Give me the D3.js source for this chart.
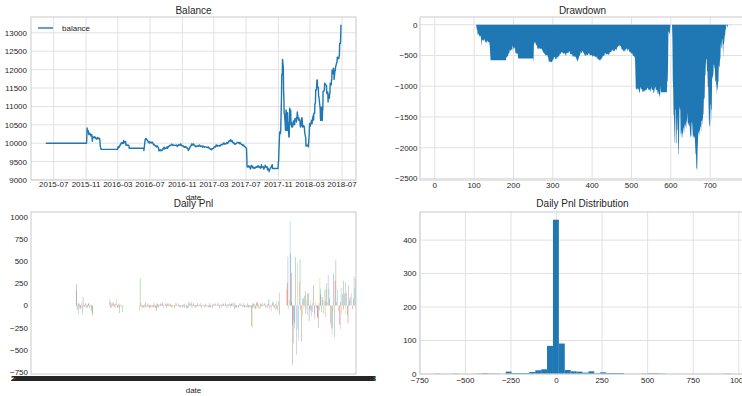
<!DOCTYPE html>
<html><head><meta charset="utf-8">
<script src="https://cdn.jsdelivr.net/npm/d3@7"></script>
<style>
body{margin:0;background:#fff;}
svg text{font-family:"Liberation Sans",Arial,sans-serif;fill:#262626;}
</style></head><body>
<svg id="c" width="742" height="396"></svg>
<script>
// ---------------- data ----------------
const startDate = "2015-06-01";
const startBalance = 10000;
// exchange holidays (weekdays without trading)
const holidays = [
  ["2015-06-22","2015-06-22"],["2015-09-03","2015-09-04"],["2015-10-01","2015-10-07"],
  ["2016-01-01","2016-01-01"],["2016-02-08","2016-02-12"],["2016-04-04","2016-04-04"],
  ["2016-05-02","2016-05-02"],["2016-06-09","2016-06-10"],["2016-09-15","2016-09-16"],
  ["2016-10-03","2016-10-07"],["2017-01-02","2017-01-02"],["2017-01-27","2017-02-02"],
  ["2017-04-03","2017-04-04"],["2017-05-01","2017-05-01"],["2017-05-29","2017-05-30"],
  ["2017-10-02","2017-10-06"],["2018-01-01","2018-01-01"],["2018-02-15","2018-02-21"],
  ["2018-04-05","2018-04-06"],["2018-04-30","2018-05-01"],["2018-06-18","2018-06-18"]
];
const dailyPnl = [
0,0,0,0,0,0,0,0,0,0,
0,0,0,0,0,0,0,0,0,0,
0,0,0,0,0,0,0,0,0,0,
0,0,0,0,0,0,0,0,0,0,
0,0,0,0,0,0,0,0,0,0,
0,0,0,0,0,0,0,0,0,0,
0,0,0,0,0,0,0,0,0,0,
0,0,0,0,0,0,0,0,0,0,
0,0,0,0,0,0,0,0,0,0,
0,0,0,0,0,0,0,0,0,0,
0,0,0,0,169,243,-38,-52,12,-96,
28,-17,21,-44,8,-31,35,-12,-68,-104,
96,22,-18,6,-14,25,9,-27,-25,15,
-22,-11,24,22,-5,-30,0,12,0,-21,
-63,-120,-97,0,0,0,0,0,0,0,
0,0,0,0,0,0,0,0,0,0,
0,0,0,0,0,0,0,0,0,0,
0,0,0,0,0,0,0,0,0,0,
0,0,64,-27,38,-22,15,27,26,-8,
21,41,-21,12,0,24,-28,0,80,-21,
-24,-14,9,24,-22,-84,12,0,-18,7,
0,-9,-72,0,0,0,0,0,0,0,
0,0,0,0,0,0,0,0,0,0,
0,0,0,0,0,0,0,0,0,0,
0,0,0,0,0,0,0,0,0,0,
0,-60,308,-12,27,6,-18,-27,-9,4,
-21,-33,-7,10,-25,33,-6,-14,5,-19,
24,-11,8,-28,-5,-24,-16,12,-22,0,
-9,-17,6,-24,29,-13,9,-31,-8,-29,
-63,30,-18,19,-26,11,-6,7,-10,26,
15,8,-4,35,12,-6,-35,9,-3,0,
22,14,-5,-28,31,18,-7,13,28,-9,
11,5,23,-12,8,-23,6,-14,10,0,
-5,9,-31,-8,4,31,12,-6,0,7,
-11,26,5,-9,-26,-16,6,0,-13,8,
-20,-22,11,-7,22,-24,6,0,-18,9,
-35,0,-28,-22,41,0,37,18,0,25,
12,44,-29,8,-6,27,4,-9,-27,6,
-12,-24,-8,5,-14,24,7,-10,0,-6,
9,30,-13,4,-30,-7,11,0,-5,8,
-21,-11,6,21,-9,-14,0,7,-12,0,
-18,5,25,-21,-25,-12,8,0,-19,14,
-27,22,9,0,15,-4,27,11,6,0,
-7,13,32,8,-5,-32,12,9,0,-6,
14,-23,7,-4,23,16,5,0,-8,12,
28,9,-6,-28,14,0,-10,18,0,25,
-9,-24,21,16,24,-7,26,0,-12,36,
-45,30,-18,9,-30,-21,-14,0,6,-11,
-26,8,-5,26,-9,7,22,4,-6,-22,
-12,28,9,-17,-28,-8,5,0,-23,-14,
24,-19,6,-22,-24,8,-12,0,-15,-23,
-232,-251,-25,22,-14,25,-31,18,0,-42,
-35,28,33,41,-9,-33,12,-6,-38,0,
21,-29,14,-8,29,5,-11,0,16,-7,
26,9,-4,-26,-12,0,19,-24,-21,21,
72,-46,0,-18,0,11,-62,0,24,47,
34,-13,-34,-9,0,16,-51,-38,56,-44,
0,-62,48,0,146,-106,0,0,0,0,
0,0,0,0,0,0,0,0,0,0,
0,184,0,255,552,0,-42,0,63,953,
590,0,42,368,-219,-668,-160,-425,0,-258,
-195,0,548,0,-555,0,484,-270,0,-392,
0,270,515,-52,0,-405,0,73,-128,0,
85,-34,112,0,-96,158,-44,0,62,-108,
135,0,140,-175,0,-45,58,-58,0,-122,
-68,25,0,225,0,-94,-156,0,38,-12,
-26,0,-142,-128,0,-250,35,-55,310,190,
130,0,-72,98,0,64,0,-88,180,0,
48,-130,185,0,255,0,35,345,0,190,
80,0,-200,0,-250,0,-328,-263,-59,0,
360,0,-360,280,0,510,0,40,0,180,
0,-62,0,-218,0,40,-270,200,-100,0,
130,0,280,-45,0,135,0,265,-90,0,
145,0,-105,-200,230,0,50,85,0,100,
0,140,0,-40,0,80,0,330,0,200,
300,-25
];
const balanceXTicks = ["2015-07","2015-11","2016-03","2016-07","2016-11","2017-03","2017-07","2017-11","2018-03","2018-07"];
const balanceYTicks = [9000,9500,10000,10500,11000,11500,12000,12500,13000];
const drawdownXTicks = [0,100,200,300,400,500,600,700];
const drawdownYTicks = [0,-500,-1000,-1500,-2000,-2500];
const pnlYTicks = [-750,-500,-250,0,250,500,750,1000];
const histXTicks = [-750,-500,-250,0,250,500,750,1000];
const histYTicks = [0,100,200,300,400];
const histBinCount = 50;

// ---------------- derived series ----------------
function tradingDays(count){
  const hol = holidays.map(([a,b])=>[Date.parse(a+"T00:00:00Z"),Date.parse(b+"T00:00:00Z")]);
  const out=[]; let t=Date.parse(startDate+"T00:00:00Z");
  while(out.length<count){
    const wd=new Date(t).getUTCDay();
    if(wd!==0&&wd!==6&&!hol.some(([a,b])=>t>=a&&t<=b)) out.push(new Date(t));
    t+=86400000;
  }
  return out;
}
const n = dailyPnl.length;
const dates = tradingDays(n);
const balance = Array.from(d3.cumsum(dailyPnl), v=>startBalance+v);
let runMax=-Infinity;
const drawdown = balance.map(b=>{runMax=Math.max(runMax,b);return b-runMax;});

// ---------------- drawing helpers ----------------
const svg = d3.select("#c");
const GRID="#e1e1e1", SPINE="#d2d2d2", BLUE="#1f77b4";
const fmt = v => v<0 ? "\u2212"+Math.abs(v) : String(v);
let clipId=0;
function frame(box, o){
  const g = svg.append("g");
  if(o.xGrid) o.xTicks.forEach(t=>g.append("line").attr("x1",o.x(t)).attr("x2",o.x(t))
      .attr("y1",box.t).attr("y2",box.b).attr("stroke",GRID).attr("stroke-width",1));
  if(o.yGrid) o.yTicks.forEach(t=>g.append("line").attr("y1",o.y(t)).attr("y2",o.y(t))
      .attr("x1",box.l).attr("x2",box.r).attr("stroke",GRID).attr("stroke-width",1));
  const id="clip"+(clipId++);
  svg.append("clipPath").attr("id",id).append("rect")
     .attr("x",box.l).attr("y",box.t).attr("width",box.r-box.l).attr("height",box.b-box.t);
  const data = svg.append("g").attr("clip-path",`url(#${id})`);
  return {data, finish(){
    svg.append("rect").attr("x",box.l).attr("y",box.t).attr("width",box.r-box.l).attr("height",box.b-box.t)
      .attr("fill","none").attr("stroke",SPINE).attr("stroke-width",1.2);
    if(o.xTicks && o.xLabelY) o.xTicks.forEach(t=>svg.append("text").attr("x",o.x(t)).attr("y",o.xLabelY)
      .attr("text-anchor","middle").attr("font-size",8).text(o.xFmt?o.xFmt(t):fmt(t)));
    o.yTicks.forEach(t=>svg.append("text").attr("x",o.yLabelX).attr("y",o.y(t)+2.9)
      .attr("text-anchor","end").attr("font-size",8).text(fmt(t)));
    svg.append("text").attr("x",(box.l+box.r)/2).attr("y",o.titleY).attr("text-anchor","middle")
      .attr("font-size",10).text(o.title);
  }};
}

// ---------------- Balance ----------------
{
  const box={l:31,r:356,t:17,b:180};
  const [d0,d1]=[dates[0],dates[n-1]];
  const pad=(d1-d0)*0.05;
  const x=d3.scaleUtc().domain([new Date(+d0-pad),new Date(+d1+pad)]).range([box.l,box.r]);
  const y=d3.scaleLinear().domain([9000,13430]).range([box.b,box.t]);
  const xt=balanceXTicks.map(s=>new Date(s+"-01T00:00:00Z"));
  const f=frame(box,{x,y,xTicks:xt,yTicks:balanceYTicks,xGrid:true,yGrid:true,
    xLabelY:187.3,yLabelX:27,title:"Balance",titleY:14,xFmt:d3.utcFormat("%Y-%m")});
  f.data.append("path").datum(balance).attr("fill","none").attr("stroke",BLUE).attr("stroke-width",1.4)
    .attr("stroke-linejoin","round")
    .attr("d",d3.line().x((d,i)=>x(dates[i])).y(d=>y(d)));
  f.finish();
  svg.append("line").attr("x1",38).attr("x2",53).attr("y1",28).attr("y2",28).attr("stroke",BLUE).attr("stroke-width",1.4);
  svg.append("text").attr("x",62).attr("y",30.9).attr("font-size",8).text("balance");
  svg.append("text").attr("x",(box.l+box.r)/2).attr("y",199.5).attr("text-anchor","middle").attr("font-size",8).text("date");
}

// ---------------- Drawdown ----------------
{
  const box={l:420,r:745,t:17,b:180};
  const x=d3.scaleLinear().domain([-(n-1)*0.05,(n-1)*1.05]).range([box.l,box.r]);
  const y=d3.scaleLinear().domain([-2525,125]).range([box.b,box.t]);
  const f=frame(box,{x,y,xTicks:drawdownXTicks,yTicks:drawdownYTicks,xGrid:true,yGrid:true,
    xLabelY:187.9,yLabelX:417.5,title:"Drawdown",titleY:14});
  f.data.append("path").datum(drawdown).attr("fill",BLUE).attr("stroke","none")
    .attr("d",d3.area().x((d,i)=>x(i)).y0(y(0)).y1(d=>y(d)));
  f.finish();
}

// ---------------- Daily Pnl ----------------
{
  const box={l:31,r:356,t:212,b:374};
  const x=d3.scaleLinear().domain([-0.5,n-0.5]).range([box.l,box.r]);
  const y=d3.scaleLinear().domain([-773,1056]).range([box.b,box.t]);
  const f=frame(box,{x,y,yTicks:pnlYTicks,xGrid:false,yGrid:false,
    yLabelX:28,title:"Daily Pnl",titleY:207});
  const bw=x(0.5)-x(-0.5);
  const colors=d3.schemeCategory10;
  f.data.selectAll("rect.bar").data(dailyPnl.map((v,i)=>({v,i})).filter(d=>d.v!==0)).join("rect")
    .attr("class","bar")
    .attr("x",d=>x(d.i)-bw/2).attr("width",bw)
    .attr("y",d=>y(Math.max(0,d.v))).attr("height",d=>Math.abs(y(d.v)-y(0)))
    .attr("fill",d=>colors[d.i%10]).attr("fill-opacity",0.75);
  f.finish();
  const fd=d3.utcFormat("%Y-%m-%d");
  svg.append("g").selectAll("text").data(dates).join("text")
    .attr("x",(d,i)=>x(i)).attr("y",381).attr("text-anchor","middle").attr("font-size",8).text(d=>fd(d));
  svg.append("text").attr("x",(box.l+box.r)/2).attr("y",392.5).attr("text-anchor","middle").attr("font-size",8).text("date");
}

// ---------------- Daily Pnl Distribution ----------------
{
  const box={l:420,r:745,t:212,b:374};
  const [mn,mx]=d3.extent(dailyPnl);
  const w=(mx-mn)/histBinCount;
  const bins=d3.bin().domain([mn,mx]).thresholds(d3.range(1,histBinCount).map(k=>mn+k*w))(dailyPnl);
  const r=mx-mn;
  const x=d3.scaleLinear().domain([mn-0.05*r,mx+0.05*r]).range([box.l,box.r]);
  const y=d3.scaleLinear().domain([0,d3.max(bins,b=>b.length)*1.05]).range([box.b,box.t]);
  const f=frame(box,{x,y,xTicks:histXTicks,yTicks:histYTicks,xGrid:true,yGrid:true,
    xLabelY:382.5,yLabelX:416.5,title:"Daily Pnl Distribution",titleY:206.5});
  f.data.selectAll("rect").data(bins).join("rect")
    .attr("x",b=>x(b.x0)).attr("width",b=>x(b.x1)-x(b.x0))
    .attr("y",b=>y(b.length)).attr("height",b=>y(0)-y(b.length)).attr("fill",BLUE);
  f.finish();
}
</script>
</body></html>
